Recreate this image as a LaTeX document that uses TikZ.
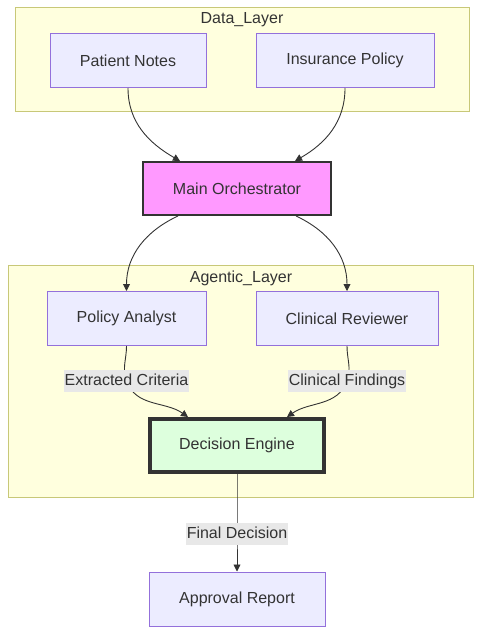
\documentclass[tikz,border=0pt]{standalone}
\usepackage{fontspec}
\setmainfont{Liberation Sans}
\usepackage{tikz}
\usetikzlibrary{arrows.meta,positioning,calc}
\definecolor{layerfill}{HTML}{FFFFDE}
\definecolor{layerline}{HTML}{C8C878}
\definecolor{boxfill}{HTML}{ECECFF}
\definecolor{boxline}{HTML}{9370DB}
\definecolor{orchfill}{HTML}{FF99FF}
\definecolor{enginefill}{HTML}{DDFFDD}
\definecolor{ink}{HTML}{333333}
\definecolor{labelbg}{HTML}{E8E8E8}

\begin{document}
\begin{tikzpicture}[x=1pt,y=1pt,font=\fontsize{16}{19}\selectfont,text=ink,
  layer/.style={draw=layerline,fill=layerfill,line width=1pt,inner sep=0pt},
  agent/.style={draw=boxline,fill=boxfill,line width=1pt,minimum height=54pt},
  edge/.style={-{Triangle[length=7pt,width=7pt]},ink,line width=0.9pt},
  lbl/.style={fill=labelbg,inner xsep=1pt,inner ysep=3pt,text height=12pt,text depth=4pt}]
  \useasboundingbox (0,0) rectangle (482,-634);
  % layers
  \node[layer,minimum width=454pt,minimum height=103pt] (datalayer) at (242,-59.5) {};
  \node at (242,-20) (datatitle) {Data\_Layer};
  \node[layer,minimum width=465pt,minimum height=232pt] (agentlayer) at (240.5,-381) {};
  \node at (241,-278) (agenttitle) {Agentic\_Layer};
  % nodes
  \node[agent,minimum width=156pt] (notes) at (128,-60.5) {Patient Notes};
  \node[agent,minimum width=178pt] (policy) at (345,-60.5) {Insurance Policy};
  \node[draw=ink,fill=orchfill,line width=2pt,minimum width=188pt,minimum height=53pt] (orch) at (237,-188.5) {Main Orchestrator};
  \node[agent,minimum width=159pt] (analyst) at (126.5,-318.5) {Policy Analyst};
  \node[agent,minimum width=182pt] (reviewer) at (347,-318.5) {Clinical Reviewer};
  \node[draw=ink,fill=enginefill,line width=4pt,minimum width=174pt,minimum height=53pt] (engine) at (237,-445.5) {Decision Engine};
  \node[agent,minimum width=176pt] (report) at (237,-599) {Approval Report};
  % edges
  \draw[edge] (notes.south) to[out=-90,in=150] ([xshift=-57pt]orch.north);
  \draw[edge] (policy.south) to[out=-90,in=30] ([xshift=58pt]orch.north);
  \draw[edge] ([xshift=-59pt]orch.south) to[out=205,in=90] (analyst.north);
  \draw[edge] ([xshift=59pt]orch.south) to[out=-25,in=90] (reviewer.north);
  \draw[edge] (analyst.south) to[out=-90,in=110] (126.5,-381) node[lbl] (criteria) {Extracted Criteria}
    to[out=-70,in=145] ([xshift=-49pt]engine.north);
  \draw[edge] (reviewer.south) to[out=-90,in=70] (347,-381) node[lbl] (findings) {Clinical Findings}
    to[out=-110,in=35] ([xshift=50pt]engine.north);
  \draw[edge] (engine.south) -- (237,-534) node[lbl] (final) {Final Decision} -- (report.north);
\end{tikzpicture}
\end{document}
